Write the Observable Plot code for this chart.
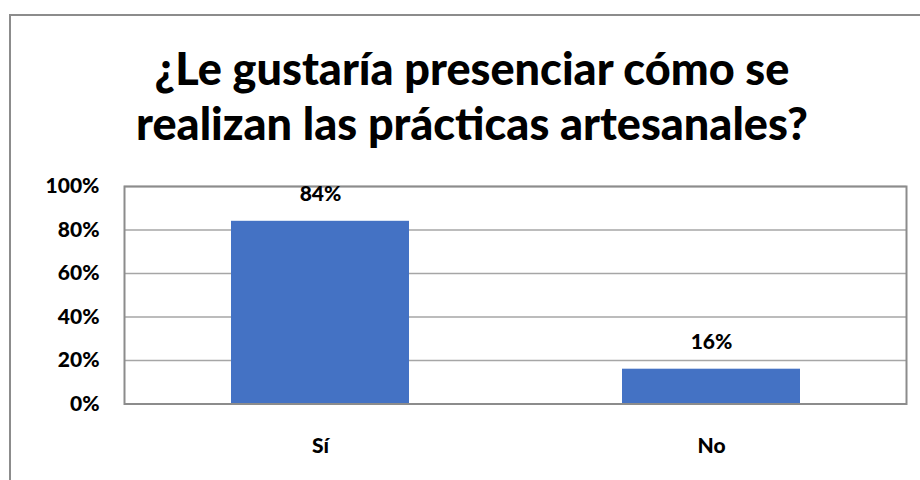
<!DOCTYPE html>
<html>
<head>
<meta charset="utf-8">
<script src="https://cdn.jsdelivr.net/npm/d3@7"></script>
<script src="https://cdn.jsdelivr.net/npm/@observablehq/plot@0.6"></script>
<style>
  body { margin: 0; background: #fff; }
  #wrap { position: relative; width: 920px; height: 480px; overflow: hidden; background: #fff; }
  #frame { position: absolute; left: 9px; top: 14px; width: 924px; height: 500px; border: 2px solid #8c8c8c; box-sizing: border-box; }
  #title { position: absolute; left: 10px; width: 924px; top: 41px; text-align: center; font-family: Lato, sans-serif; font-weight: 900; font-size: 45px; line-height: 55px; color: #000; }
  #chart { position: absolute; left: 0; top: 170px; }
</style>
</head>
<body>
<div id="wrap">
  <div id="frame"></div>
  <div id="title"><div id="t1"></div><div id="t2"></div></div>
  <div id="chart"></div>
</div>
<script>
const titleLines = ["¿Le gustaría presenciar cómo se", "realizan las prácticas artesanales?"];
const categories = ["Sí", "No"];
const values = [0.84, 0.16];
const yTicks = [0, 0.2, 0.4, 0.6, 0.8, 1.0];

document.getElementById("t1").textContent = titleLines[0];
document.getElementById("t2").textContent = titleLines[1];

const data = categories.map((c, i) => ({category: c, value: values[i]}));
const pct = d3.format(".0%");

const chart = Plot.plot({
  width: 920,
  height: 310,
  marginLeft: 124,
  marginRight: 14,
  marginTop: 16,
  marginBottom: 76.5,
  style: {fontFamily: "Lato, sans-serif", fontSize: "21px", fontWeight: "900", color: "#000", background: "transparent"},
  x: {domain: categories, paddingInner: 0.545, paddingOuter: 0.2725, label: null},
  y: {domain: [0, 1], label: null},
  marks: [
    Plot.gridY(yTicks, {stroke: "#a6a6a6", strokeOpacity: 1, strokeWidth: 1.5}),
    Plot.barY(data, {x: "category", y: "value", fill: "#4472c4"}),
    Plot.frame({stroke: "#8c8c8c", strokeWidth: 2}),
    Plot.text(data, {x: "category", y: "value", text: d => pct(d.value), dy: -27, fill: "#000", fontWeight: "900", fontSize: 21}),
    Plot.axisY(yTicks, {tickSize: 0, tickPadding: 25, tickFormat: pct, fontWeight: "900", fontSize: 21}),
    Plot.axisX({tickSize: 0, tickPadding: 34, fontWeight: "900", fontSize: 21})
  ]
});
document.getElementById("chart").appendChild(chart);
</script>
</body>
</html>
